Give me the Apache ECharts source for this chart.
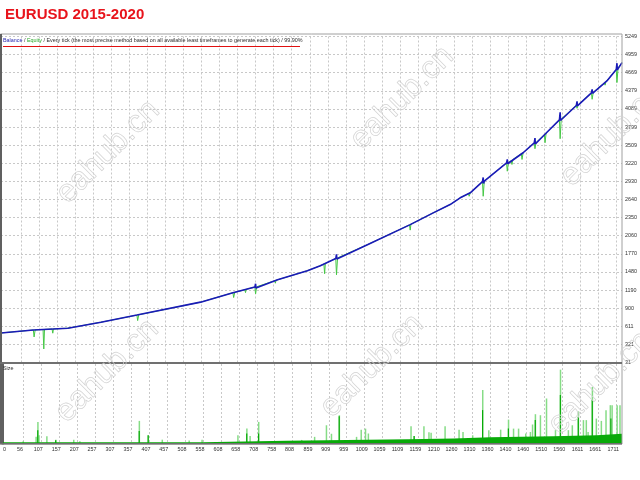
<!DOCTYPE html>
<html><head><meta charset="utf-8">
<script src="https://cdn.jsdelivr.net/npm/echarts@6/dist/echarts.min.js"></script>
<style>html,body{margin:0;padding:0;background:#fff}#c{width:640px;height:480px}</style>
</head><body><div id="c"></div>
<script>
const titleText = 'EURUSD 2015-2020';
const legendBalance = 'Balance';
const legendEquity = 'Equity';
const legendRest = ' / Every tick (the most precise method based on all available least timeframes to generate each tick) / 99.90%';
const lowerTitle = 'Size';
const watermarkText = 'eahub.cn';

const xTickLabels = [56,107,157,207,257,307,357,407,457,508,558,608,658,708,758,808,859,909,959,1009,1059,1109,1159,1210,1260,1310,1360,1410,1460,1510,1560,1611,1661,1711];
const xFirstLabel = 0;
const yTickLabels = [31,321,611,900,1190,1480,1770,2060,2350,2640,2930,3220,3509,3799,4089,4379,4669,4959,5249];

const balanceIdx = [0,90,92,93,95,186,278,378,380,381,383,555,645,647,648,650,706,708,709,711,769,852,888,931,933,934,936,1019,1138,1202,1249,1277,1305,1339,1341,1342,1344,1406,1408,1409,1411,1452,1483,1485,1486,1488,1519,1553,1555,1556,1558,1600,1602,1603,1605,1642,1644,1645,1647,1685,1711,1713,1714,1716,1727];
const balanceVal = [504,551,578,536,553,580,676,790,818,776,795,997,1148,1172,1142,1153,1238,1292,1222,1243,1355,1500,1580,1695,1762,1688,1705,1917,2238,2426,2559,2667,2747,2925,2992,2895,2935,3225,3282,3212,3232,3388,3545,3622,3528,3553,3720,3915,4035,3905,3928,4145,4212,4138,4155,4348,4402,4340,4356,4538,4720,4822,4715,4745,4830];

const equityIdx = [0,90,92,95,117,119,121,142,144,146,186,278,378,380,383,555,645,647,650,678,680,682,706,708,711,761,763,765,769,852,888,898,900,902,931,933,936,1019,1136,1138,1140,1202,1249,1277,1300,1302,1305,1339,1341,1344,1406,1408,1411,1419,1421,1423,1447,1449,1452,1483,1485,1488,1511,1513,1516,1519,1553,1555,1558,1600,1602,1605,1642,1644,1647,1678,1680,1682,1685,1711,1713,1716,1727];
const equityVal = [504,551,440,553,559,248,560,567,500,568,580,676,790,702,795,997,1148,1071,1153,1195,1150,1202,1238,1130,1243,1340,1300,1347,1355,1500,1580,1607,1452,1617,1695,1435,1705,1917,2233,2150,2244,2426,2559,2667,2733,2692,2747,2925,2692,2935,3225,3093,3232,3262,3201,3278,3373,3281,3388,3545,3453,3553,3677,3549,3704,3720,3915,3613,3928,4145,4100,4155,4348,4244,4356,4505,4470,4524,4538,4720,4512,4745,4830];

const sizeBaseIdx = [0,555,791,958,1130,1258,1360,1535,1657,1727];
const sizeBaseVal = [0.6,1.2,1.5,1.75,2.1,2.5,2.9,3.3,3.9,3.9];

const sizeSpikeIdx = [56,92,97,100,122,147,197,214,380,405,444,519,555,655,680,689,713,763,833,869,902,916,938,986,999,1011,1019,1097,1138,1147,1174,1188,1194,1233,1272,1283,1310,1338,1355,1388,1410,1424,1438,1458,1471,1477,1485,1499,1516,1541,1555,1577,1588,1605,1619,1627,1632,1644,1655,1669,1682,1694,1699,1713,1721];
const sizeSpikeVal = [1.0,2.7,8.5,3.3,2.9,1.6,1.6,1.0,8.9,3.3,1.6,1.3,1.6,3.3,5.9,3.0,8.5,1.0,1.5,2.7,7.2,3.9,11.1,2.7,5.5,5.9,4.0,1.4,6.8,3.0,6.8,4.5,4.3,6.8,5.5,4.6,3.3,20.9,5.3,5.5,9.4,5.9,5.9,4.0,4.6,7.5,11.5,11.1,17.6,5.3,28.8,5.3,7.2,12.6,9.2,9.2,4.6,22.1,9.8,8.9,13.0,15.0,15.0,15.0,15.0];

const sizeCoreIdx = [97,147,380,405,680,713,938,1147,1338,1410,1485,1555,1605,1644,1696];
const sizeCoreVal = [5.3,1.4,5.0,3.3,4.0,4.0,10.7,3.0,13.1,5.9,9.2,19.0,10.4,17.0,9.8];

const watermarkPos = [[108,152],[402,98],[612,135],[107,371],[372,366],[600,383]];

const pairs = (a, b) => a.map((v, i) => [v, b[i]]);
const FONT = 'Liberation Sans, Arial, sans-serif';
const GRID_LINE = {show: true, lineStyle: {color: '#c8c8c8', type: [2, 2], width: 1}};
const plain = v => String(Math.round(v));

const chart = echarts.init(document.getElementById('c'), null, {renderer: 'canvas'});

const graphics = [
  {type: 'text', x: 5, y: 14.5, style: {text: titleText, font: 'bold 15px ' + FONT, fill: '#e8141c', verticalAlign: 'middle'}},
  {type: 'rect', shape: {x: 0.5, y: 34, width: 621.5, height: 410}, style: {fill: 'none', stroke: '#a0a0a0', lineWidth: 1}, z: 50},
  {type: 'line', shape: {x1: 1, y1: 34, x2: 1, y2: 444}, style: {stroke: '#606060', lineWidth: 2}, z: 50},
  {type: 'line', shape: {x1: 0, y1: 363, x2: 622, y2: 363}, style: {stroke: '#707070', lineWidth: 2}, z: 50},
  {type: 'line', shape: {x1: 0, y1: 443.8, x2: 622, y2: 443.8}, style: {stroke: '#707070', lineWidth: 1.5}, z: 50},
  {type: 'text', x: 3, y: 41, z: 60, style: {
    text: '{b|' + legendBalance + '}{g| / }{e|' + legendEquity + '}{g|' + legendRest + '}',
    verticalAlign: 'middle',
    rich: {
      b: {fill: '#2828b0', font: '5.4px ' + FONT},
      e: {fill: '#28a828', font: '5.4px ' + FONT},
      g: {fill: '#303030', font: '5.4px ' + FONT}
    }
  }},
  {type: 'line', shape: {x1: 3, y1: 46.5, x2: 300, y2: 46.5}, style: {stroke: '#e01010', lineWidth: 1}, z: 60},
  {type: 'text', x: 3, y: 369, z: 60, style: {text: lowerTitle, font: '5.4px ' + FONT, fill: '#303030', verticalAlign: 'middle'}}
];
watermarkPos.forEach(p => graphics.push({
  type: 'text', x: p[0], y: p[1], rotation: Math.PI / 4, z: 100,
  style: {text: watermarkText, font: '32px ' + FONT, fill: 'rgba(255,255,255,0)', stroke: '#d2d2d2', lineWidth: 0.7, align: 'center', verticalAlign: 'middle'}
}));

const option = {
  animation: false,
  backgroundColor: '#ffffff',
  textStyle: {fontFamily: FONT},
  grid: [
    {left: 1, right: 18, top: 36.5, height: 326},
    {left: 1, right: 18, top: 364, height: 79.8}
  ],
  xAxis: [
    {gridIndex: 0, type: 'value', min: 0, max: 1727,
      axisLine: {show: false}, axisTick: {show: false, customValues: xTickLabels},
      axisLabel: {show: false}, splitLine: GRID_LINE},
    {gridIndex: 1, type: 'value', min: 0, max: 1727,
      axisLine: {show: false}, axisTick: {show: false, customValues: xTickLabels},
      axisLabel: {show: true, customValues: [xFirstLabel].concat(xTickLabels), formatter: plain, fontSize: 5.4, color: '#303030', margin: 3, padding: [0, 6, 0, 0], alignMinLabel: 'left', fontFamily: FONT},
      splitLine: GRID_LINE}
  ],
  yAxis: [
    {gridIndex: 0, type: 'value', position: 'right', min: 31, max: 5249,
      axisLine: {show: true, lineStyle: {color: '#606060', width: 2}},
      axisTick: {show: false, customValues: yTickLabels},
      axisLabel: {customValues: yTickLabels, formatter: plain, fontSize: 5.4, color: '#303030', margin: 3, padding: [2, 0, 0, 0], fontFamily: FONT},
      splitLine: GRID_LINE},
    {gridIndex: 1, type: 'value', position: 'right', min: 0, max: 31,
      axisLine: {show: true, lineStyle: {color: '#606060', width: 2}},
      axisTick: {show: false}, axisLabel: {show: false}, splitLine: {show: false}}
  ],
  series: [
    {name: 'Equity', type: 'line', xAxisIndex: 0, yAxisIndex: 0, data: pairs(equityIdx, equityVal),
      symbol: 'none', lineStyle: {color: '#46c846', width: 1}, z: 3},
    {name: 'Balance', type: 'line', xAxisIndex: 0, yAxisIndex: 0, data: pairs(balanceIdx, balanceVal),
      symbol: 'none', lineStyle: {color: '#1a1ab8', width: 1.6}, z: 4},
    {name: 'SizeSpike', type: 'bar', xAxisIndex: 1, yAxisIndex: 1, data: pairs(sizeSpikeIdx, sizeSpikeVal),
      barWidth: 1.5, itemStyle: {color: '#86dc86'}, z: 2},
    {name: 'SizeBase', type: 'line', xAxisIndex: 1, yAxisIndex: 1, data: pairs(sizeBaseIdx, sizeBaseVal),
      step: 'end', symbol: 'none', lineStyle: {width: 0}, areaStyle: {color: '#08aa08', opacity: 1}, z: 3},
    {name: 'SizeCore', type: 'bar', xAxisIndex: 1, yAxisIndex: 1, data: pairs(sizeCoreIdx, sizeCoreVal),
      barWidth: 1.2, barGap: '-100%', itemStyle: {color: '#08aa08'}, z: 4}
  ],
  graphic: graphics
};
chart.setOption(option);
</script>
</body></html>
